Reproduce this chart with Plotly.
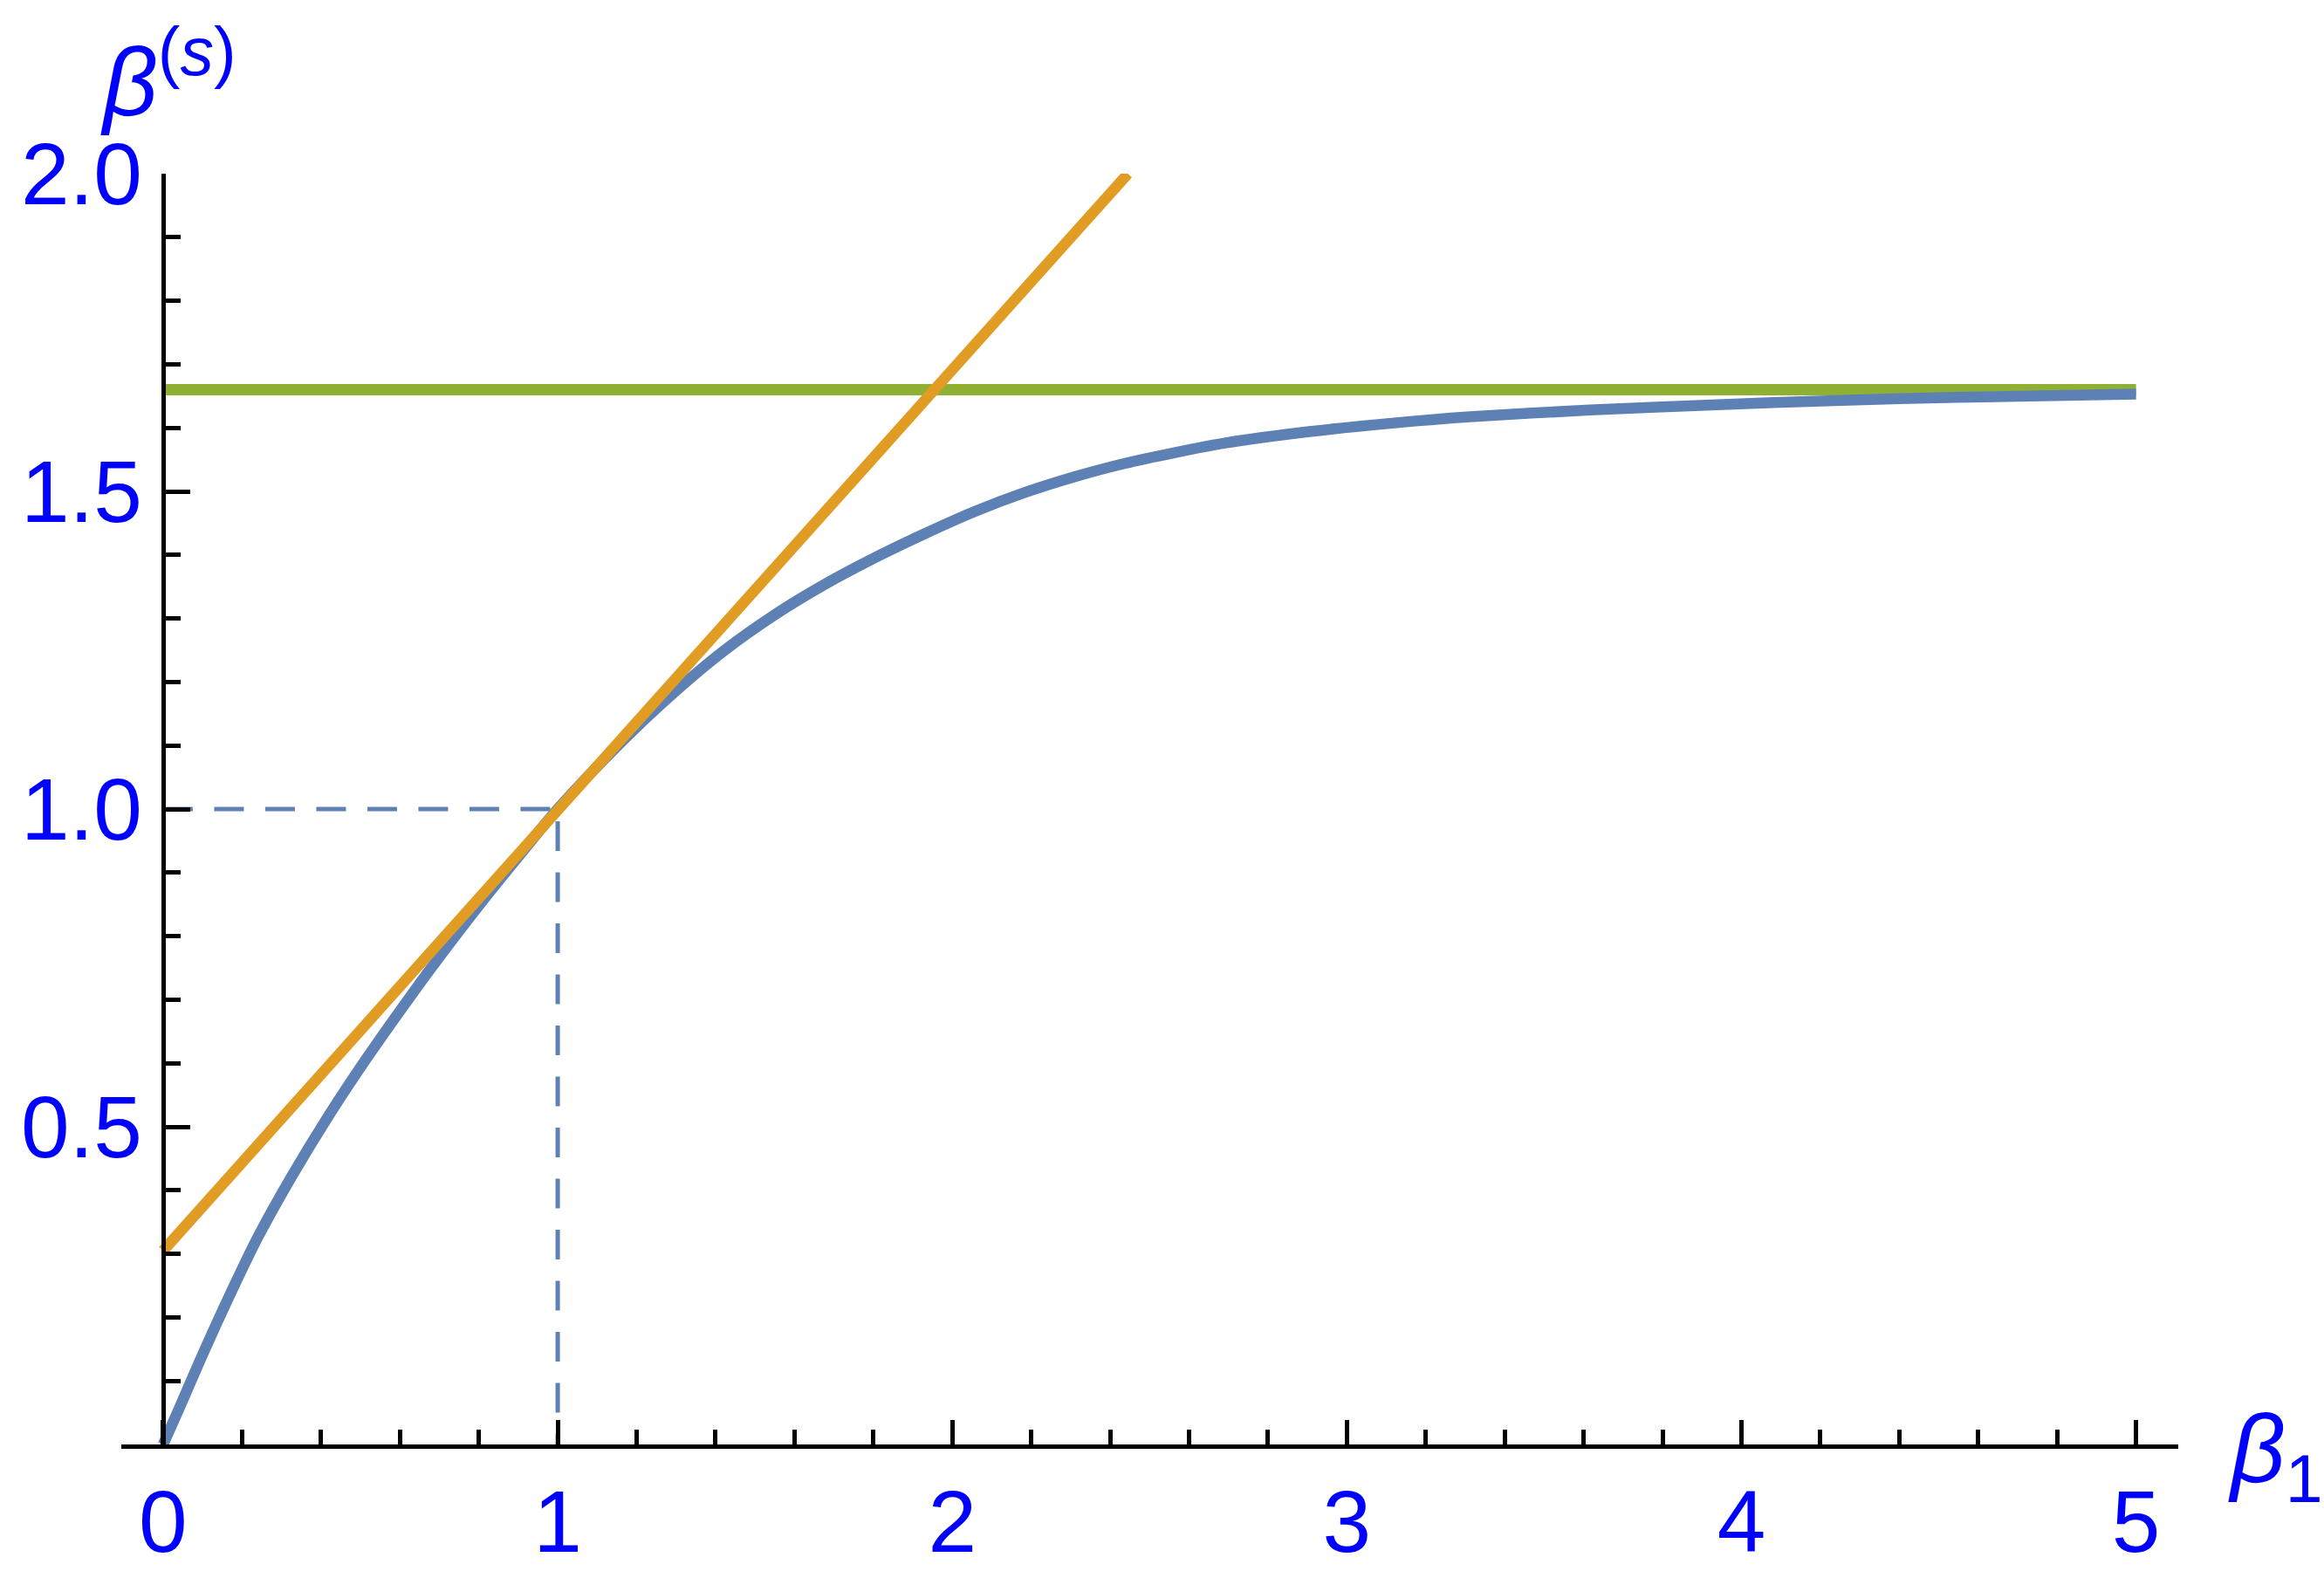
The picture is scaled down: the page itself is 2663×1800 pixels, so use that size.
import plotly.graph_objects as go

# ---- data ----
beta1 = [0, 0.038, 0.099, 0.165, 0.239, 0.324, 0.416, 0.515, 0.616, 0.70, 0.80,
         0.90, 1.0, 1.167, 1.294, 1.421, 1.548, 1.675, 1.802, 1.929, 2.056,
         2.183, 2.310, 2.437, 2.564, 2.691, 2.905, 3.126, 3.304, 3.615, 3.925,
         4.235, 4.546, 5.0]
beta_s = [0, 0.053, 0.140, 0.230, 0.325, 0.420, 0.514, 0.607, 0.696, 0.767, 0.848,
          0.925, 1.0, 1.109, 1.183, 1.249, 1.305, 1.353, 1.395, 1.433, 1.468,
          1.498, 1.523, 1.544, 1.561, 1.576, 1.594, 1.608, 1.617, 1.628, 1.636,
          1.643, 1.648, 1.653]

tangent_x = [0, 2.445]
tangent_y = [0.305, 2.0]

asym_x = [0, 5]
asym_y = [1.66, 1.66]

hdash_x = [0, 1]
hdash_y = [1, 1]
vdash_x = [1, 1]
vdash_y = [1, 0]

x_range = [-0.106, 5.107]
y_range = [0, 2.0]
x_tickvals = [0, 1, 2, 3, 4, 5]
x_ticktext = ["0", "1", "2", "3", "4", "5"]
y_tickvals = [0.5, 1.0, 1.5, 2.0]
y_ticktext = ["0.5", "1.0", "1.5", "2.0"]

BLUE = "#5E81B5"
ORANGE = "#E19C24"
GREEN = "#8FB032"
LABEL = "#0000FF"
FONT = "Liberation Sans, Arial, sans-serif"

fig = go.Figure()
fig.add_trace(go.Scatter(x=hdash_x, y=hdash_y, mode="lines",
                         line=dict(color=BLUE, width=5, dash="34px,24.5px")))
fig.add_trace(go.Scatter(x=vdash_x, y=vdash_y, mode="lines",
                         line=dict(color=BLUE, width=5, dash="0px,14px,34px,10.5px")))
fig.add_trace(go.Scatter(x=asym_x, y=asym_y, mode="lines",
                         line=dict(color=GREEN, width=13)))
fig.add_trace(go.Scatter(x=beta1, y=beta_s, mode="lines",
                         line=dict(color=BLUE, width=12.5, shape="spline", smoothing=0.8)))
fig.add_trace(go.Scatter(x=tangent_x, y=tangent_y, mode="lines",
                         line=dict(color=ORANGE, width=12.5)))

ypos = (0 - x_range[0]) / (x_range[1] - x_range[0])

axis_common = dict(
    showgrid=False, zeroline=False, automargin=False,
    showline=True, linecolor="black", linewidth=5,
    ticks="inside", ticklen=28, tickwidth=5, tickcolor="black",
    tickmode="array",
    tickfont=dict(family=FONT, size=100, color=LABEL),
)

fig.update_layout(
    template="none",
    width=2663, height=1800, autosize=False,
    margin=dict(l=139, r=167, t=199, b=145, pad=0),
    paper_bgcolor="white", plot_bgcolor="white",
    showlegend=False,
    font=dict(family=FONT, size=100, color=LABEL),
    xaxis=dict(
        range=x_range, tickvals=x_tickvals, ticktext=x_ticktext,
        ticklabelstandoff=-2,
        minor=dict(ticks="inside", ticklen=17, tickwidth=4.5, tickcolor="black",
                   tickmode="linear", tick0=0, dtick=0.2, showgrid=False),
        **axis_common,
    ),
    yaxis=dict(
        range=y_range, tickvals=y_tickvals, ticktext=y_ticktext,
        anchor="free", position=ypos,
        ticklabelstandoff=2,
        minor=dict(ticks="inside", ticklen=17, tickwidth=4.5, tickcolor="black",
                   tickmode="linear", tick0=0, dtick=0.1, showgrid=False),
        **axis_common,
    ),
    annotations=[
        dict(text="<i>β</i><sup>(<i>s</i>)</sup>", xref="paper", yref="paper",
             x=-0.0111, y=1.078, xanchor="left", yanchor="middle", showarrow=False,
             font=dict(family=FONT, size=110, color=LABEL)),
        dict(text="<i>β</i><sub>1</sub>", xref="paper", yref="paper",
             x=1.0232, y=-0.0085, xanchor="left", yanchor="middle", showarrow=False,
             font=dict(family=FONT, size=110, color=LABEL)),
    ],
)

fig.write_html(
    "out.html",
    config={"displayModeBar": False},
    post_script="document.body.style.margin='0';document.body.style.padding='0';"
                "document.body.style.overflow='hidden';",
)
